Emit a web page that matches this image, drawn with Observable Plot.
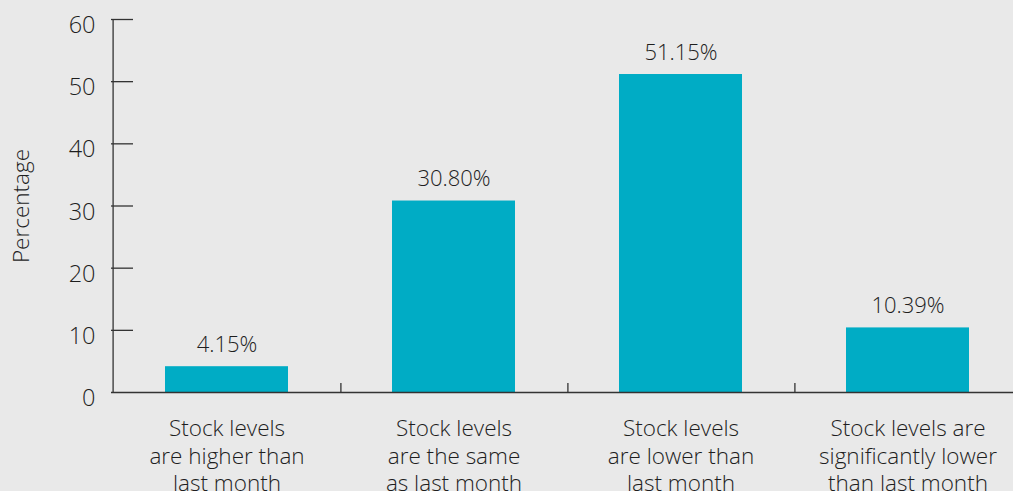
<!DOCTYPE html>
<html><head><meta charset="utf-8">
<script src="https://cdn.jsdelivr.net/npm/d3@7"></script>
<script src="https://cdn.jsdelivr.net/npm/@observablehq/plot@0.6"></script>
<style>
html,body{margin:0;padding:0;background:#e9e9e9;}
#chart svg{display:block;}
</style></head><body><div id="chart"></div>
<script>
const categories = ["Higher", "Same", "Lower", "Significantly lower"];
const categoryLabels = [
  "Stock levels\nare higher than\nlast month",
  "Stock levels\nare the same\nas last month",
  "Stock levels\nare lower than\nlast month",
  "Stock levels are\nsignificantly lower\nthan last month"
];
const values = [4.15, 30.80, 51.15, 10.39];
const valueLabels = ["4.15%", "30.80%", "51.15%", "10.39%"];
const yTicks = [0, 10, 20, 30, 40, 50, 60];
const yTitle = "Percentage";

const data = categories.map((c, i) => ({category: c, value: values[i], label: valueLabels[i]}));
const labelOf = Object.fromEntries(categories.map((c, i) => [c, categoryLabels[i]]));

const ink = "#1e1e1e";
const chart = Plot.plot({
  width: 1013, height: 491,
  marginLeft: 111, marginTop: 19, marginBottom: 99, marginRight: 0,
  style: {background: "#e9e9e9", fontFamily: "'Open Sans', sans-serif", fontWeight: 300, color: ink, overflow: "hidden"},
  x: {domain: categories, range: [111, 1022], padding: 0},
  y: {domain: [0, 60]},
  marks: [
    Plot.barY(data, {x: "category", y: "value", fill: "#00acc5", insetLeft: 52, insetRight: 52}),
    Plot.ruleY([0], {stroke: "#333", strokeWidth: 1.3}),
    Plot.ruleX([categories[0]], {x: d => d, y1: 0, y2: 60, dx: -113.9, stroke: "#333", strokeWidth: 1.3}),
    Plot.ruleX(categories.slice(0, 3), {x: d => d, y1: 0, y2: 1.45, dx: 113.9, stroke: "#333", strokeWidth: 1.3}),
    Plot.tickY(yTicks.slice(1), {y: d => d, insetRight: 880, stroke: "#333", strokeWidth: 1.3}),
    Plot.axisY({ticks: yTicks, tickSize: 0, tickPadding: 16, dy: 6, fontSize: 23.5, label: null, fill: ink}),
    Plot.axisX({tickSize: 0, tickPadding: 24, tickFormat: c => labelOf[c], fontSize: 22.5, lineHeight: 1.23, label: null, fill: ink}),
    Plot.text([yTitle], {frameAnchor: "left", text: d => d, rotate: -90, textAnchor: "middle", dx: -90, fontSize: 22.5, fill: ink}),
    Plot.text(data, {x: "category", y: "value", text: "label", lineAnchor: "bottom", dy: -15, fontSize: 22, fill: ink})
  ]
});
document.getElementById("chart").appendChild(chart);
</script></body></html>
